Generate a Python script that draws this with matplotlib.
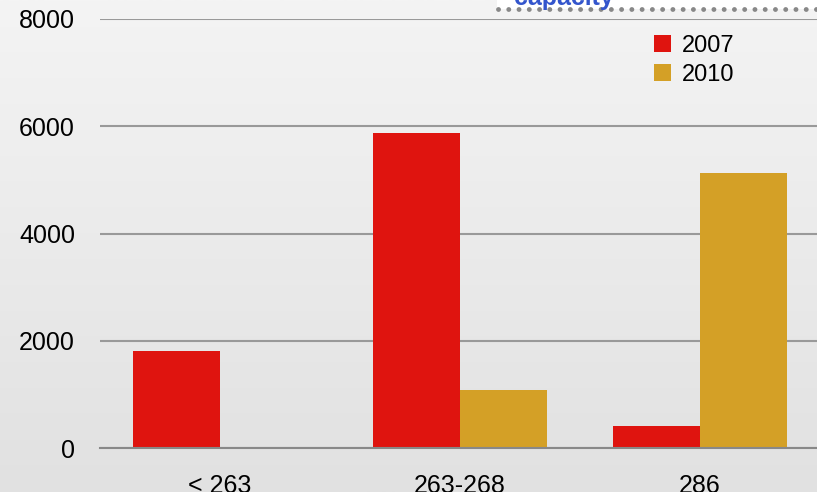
import matplotlib
matplotlib.use("Agg")
import matplotlib.pyplot as plt
import numpy as np
from matplotlib.lines import Line2D
from matplotlib.patches import Rectangle
from matplotlib.colors import LinearSegmentedColormap

categories = ["< 263", "263-268", "286"]
series_names = ["2007", "2010"]
values_2007 = [1810, 5880, 410]
values_2010 = [0, 1090, 5130]
yticks = [0, 2000, 4000, 6000, 8000]

RED = "#DF140F"
GOLD = "#D4A026"

plt.rcParams["font.family"] = ["Liberation Sans", "DejaVu Sans"]

fig = plt.figure(figsize=(8.17, 4.92), dpi=100)

# gradient background
bg = fig.add_axes([0, 0, 1, 1], zorder=-10)
grad = np.linspace(0, 1, 256).reshape(-1, 1)
cmap = LinearSegmentedColormap.from_list("bg", ["#f4f4f4", "#e1e1e1"])
bg.imshow(grad, aspect="auto", cmap=cmap, extent=[0, 1, 0, 1])
bg.axis("off")

ax = fig.add_axes([100 / 817, 44 / 492, 717 / 817, 429 / 492])
ax.set_facecolor("none")

x = np.arange(len(categories))
w = 0.3625
ax.bar(x - w / 2, values_2007, w, color=RED, label=series_names[0], zorder=3)
ax.bar(x + w / 2, values_2010, w, color=GOLD, label=series_names[1], zorder=3)

ax.set_xlim(-0.5, 2.4875)
ax.set_ylim(0, 8000)
ax.set_yticks(yticks)
ax.set_yticklabels([str(v) for v in yticks], fontsize=18)
ax.set_xticks(x)
ax.set_xticklabels(categories, fontsize=18)
ax.tick_params(axis="y", length=0, pad=18)
ax.tick_params(axis="x", length=0, pad=19)
ax.yaxis.grid(True, color="#999999", linewidth=1.5, zorder=1)
ax.set_axisbelow(True)
for s in ["top", "right", "left"]:
    ax.spines[s].set_visible(False)
ax.spines["bottom"].set_color("#888888")
ax.spines["bottom"].set_linewidth(1.5)
ax.spines["bottom"].set_zorder(4)

ax.legend(loc="upper left", bbox_to_anchor=(545 / 717, 0.985), frameon=False,
          fontsize=17, handlelength=0.7, handleheight=0.7, handletextpad=0.45,
          labelspacing=0.3, borderaxespad=0)

# cut-off title strip at top
fig.patches.append(Rectangle((497 / 817, 1 - 9 / 492), 1, 9 / 492, transform=fig.transFigure,
                             facecolor="white", edgecolor="none", zorder=5))
fig.lines.append(Line2D([498 / 817, 1.0], [1 - 9 / 492, 1 - 9 / 492], transform=fig.transFigure,
                        color="#888888", linewidth=3.5, linestyle=(0, (0.01, 2.1)),
                        dash_capstyle="round", zorder=6))
fig.text(514 / 817, 1 - 5 / 492, "capacity", color="#3355CC", fontsize=18,
         fontweight="bold", va="baseline", ha="left", zorder=7)

fig.savefig("out.png", dpi=100)
